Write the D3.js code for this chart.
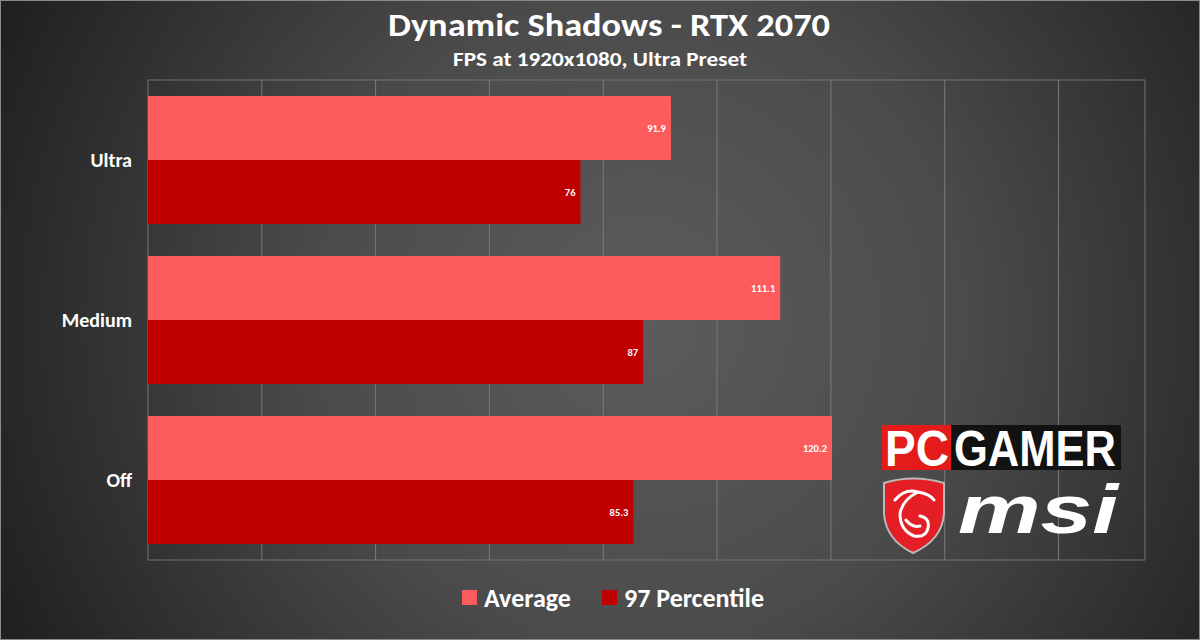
<!DOCTYPE html>
<html><head><meta charset="utf-8">
<script src="https://cdn.jsdelivr.net/npm/d3@7/dist/d3.min.js"></script>
<style>html,body{margin:0;padding:0;background:#333;}svg{display:block;}</style>
</head><body><svg id="c" width="1200" height="640"></svg>
<script>
const categories = ["Ultra", "Medium", "Off"];
const seriesNames = ["Average", "97 Percentile"];
const averageValues = [91.9, 111.1, 120.2];
const percentileValues = [76, 87, 85.3];
const seriesColors = ["#fe5c5c", "#c00000"];
const xTicks = [0, 20, 40, 60, 80, 100, 120, 140, 160];
const title = "Dynamic Shadows - RTX 2070";
const subtitle = "FPS at 1920x1080, Ultra Preset";

(function(){
const W = 1200, H = 640;
const font = "Carlito, Calibri, Lato, 'Open Sans', sans-serif";
const svg = d3.select("#c");
const defs = svg.append("defs");
const rg = defs.append("radialGradient").attr("id","bg")
  .attr("gradientUnits","userSpaceOnUse").attr("cx",640).attr("cy",320).attr("r",720);
rg.append("stop").attr("offset","0%").attr("stop-color","#5c5c5c");
rg.append("stop").attr("offset","45%").attr("stop-color","#4b4b4b");
rg.append("stop").attr("offset","100%").attr("stop-color","#1e1e1e");
svg.append("rect").attr("width",W).attr("height",H).attr("fill","url(#bg)");
svg.append("rect").attr("x",0.5).attr("y",0.5).attr("width",W-1).attr("height",H-1)
  .attr("fill","none").attr("stroke","#8a8a8a").attr("stroke-width",1);

// titles
svg.append("text").attr("x",609).attr("y",36).attr("text-anchor","middle")
  .attr("fill","#fff").attr("font-family",font).attr("font-weight","bold").attr("font-size",33)
  .attr("textLength",442).attr("lengthAdjust","spacingAndGlyphs")
  .text(title);
svg.append("text").attr("x",600).attr("y",66).attr("text-anchor","middle")
  .attr("fill","#fff").attr("font-family",font).attr("font-weight","bold").attr("font-size",20)
  .attr("textLength",294).attr("lengthAdjust","spacingAndGlyphs")
  .text(subtitle);

const pL = 148, pR = 1145, pT = 80, pB = 560;
const x = d3.scaleLinear().domain([0, 175]).range([pL, pL + 175 * (684/120.2)]);
const y = d3.scaleBand().domain(categories).range([pT, pB]).paddingInner(0.2).paddingOuter(0.1);
const y1 = d3.scaleBand().domain(seriesNames).range([0, y.bandwidth()]);

// gridlines
const g = svg.append("g");
g.selectAll("line.grid").data(xTicks.slice(1)).join("line")
  .attr("x1", d => x(d)).attr("x2", d => x(d)).attr("y1", pT).attr("y2", pB)
  .attr("stroke", "#7a7a7a").attr("stroke-width", 1);
g.append("rect").attr("x", pL).attr("y", pT).attr("width", pR - pL).attr("height", pB - pT)
  .attr("fill", "none").attr("stroke", "#747474").attr("stroke-width", 1);

const data = categories.map((c, i) => ({cat: c, vals: [averageValues[i], percentileValues[i]]}));
const groups = svg.append("g").selectAll("g").data(data).join("g")
  .attr("transform", d => `translate(0,${y(d.cat)})`);
groups.selectAll("rect").data(d => d.vals.map((v, j) => ({v, s: seriesNames[j], j}))).join("rect")
  .attr("x", x(0)).attr("y", d => y1(d.s)).attr("width", d => x(d.v) - x(0)).attr("height", y1.bandwidth())
  .attr("fill", d => seriesColors[d.j]);
groups.selectAll("text").data(d => d.vals.map((v, j) => ({v, s: seriesNames[j], j}))).join("text")
  .attr("x", d => x(d.v) - 5).attr("y", d => y1(d.s) + y1.bandwidth() / 2 + 4)
  .attr("text-anchor", "end").attr("fill", "#fff").attr("font-family", font)
  .attr("font-weight", "bold").attr("font-size", 10.5).text(d => d.v);

// category axis
const yAxis = svg.append("g").attr("transform", `translate(${pL},0)`)
  .call(d3.axisLeft(y).tickSize(0).tickPadding(16));
yAxis.select(".domain").remove();
yAxis.selectAll("text").attr("fill", "#fff").attr("font-family", font)
  .attr("font-weight", "bold").attr("font-size", 20).attr("dy", "0.35em");

// legend
const legend = svg.append("g");
const legX = [462, 602];
seriesNames.forEach((s, i) => {
  legend.append("rect").attr("x", legX[i]).attr("y", 590).attr("width", 15).attr("height", 15).attr("fill", seriesColors[i]);
  legend.append("text").attr("x", legX[i] + 22).attr("y", 607).attr("fill", "#fff").attr("font-family", font)
    .attr("font-weight", "bold").attr("font-size", 26).text(s);
});

// logos
const logo = svg.append("g");
logo.append("rect").attr("x", 882).attr("y", 425).attr("width", 69).attr("height", 45).attr("fill", "#e31b1b");
logo.append("rect").attr("x", 951).attr("y", 425).attr("width", 170).attr("height", 45).attr("fill", "#121212");
logo.append("text").attr("x", 885).attr("y", 466).attr("fill", "#fff").attr("font-family", "'Liberation Sans', Roboto, sans-serif")
  .attr("font-weight", 900).attr("font-size", 50).attr("textLength", 64).attr("lengthAdjust", "spacingAndGlyphs").text("PC");
logo.append("text").attr("x", 954).attr("y", 466).attr("fill", "#fff").attr("font-family", "'Liberation Sans', Roboto, sans-serif")
  .attr("font-weight", 900).attr("font-size", 50).attr("textLength", 162).attr("lengthAdjust", "spacingAndGlyphs").text("GAMER");
logo.append("path")
  .attr("d", "M884,483 Q913,474 944,483 L944,514 Q942,540 913,553 Q886,540 884,514 Z")
  .attr("fill", "#e31e24").attr("stroke", "#b8b8b8").attr("stroke-width", 2);
logo.append("path")
  .attr("d", "M895,500 Q905,488 918,492 Q930,494 934,500 M918,492 Q902,500 900,514 Q900,530 914,536 Q926,538 928,528 Q930,518 920,516 M906,520 Q912,528 920,526")
  .attr("fill", "none").attr("stroke", "#fff").attr("stroke-width", 3).attr("stroke-linecap", "round");
logo.append("text").attr("x", 958).attr("y", 533).attr("fill", "#fff").attr("font-family", "'Liberation Sans', Roboto, sans-serif")
  .attr("font-weight", 900).attr("font-style", "italic").attr("font-size", 68)
  .attr("textLength", 160).attr("lengthAdjust", "spacingAndGlyphs").text("msi");
})();
</script></body></html>
